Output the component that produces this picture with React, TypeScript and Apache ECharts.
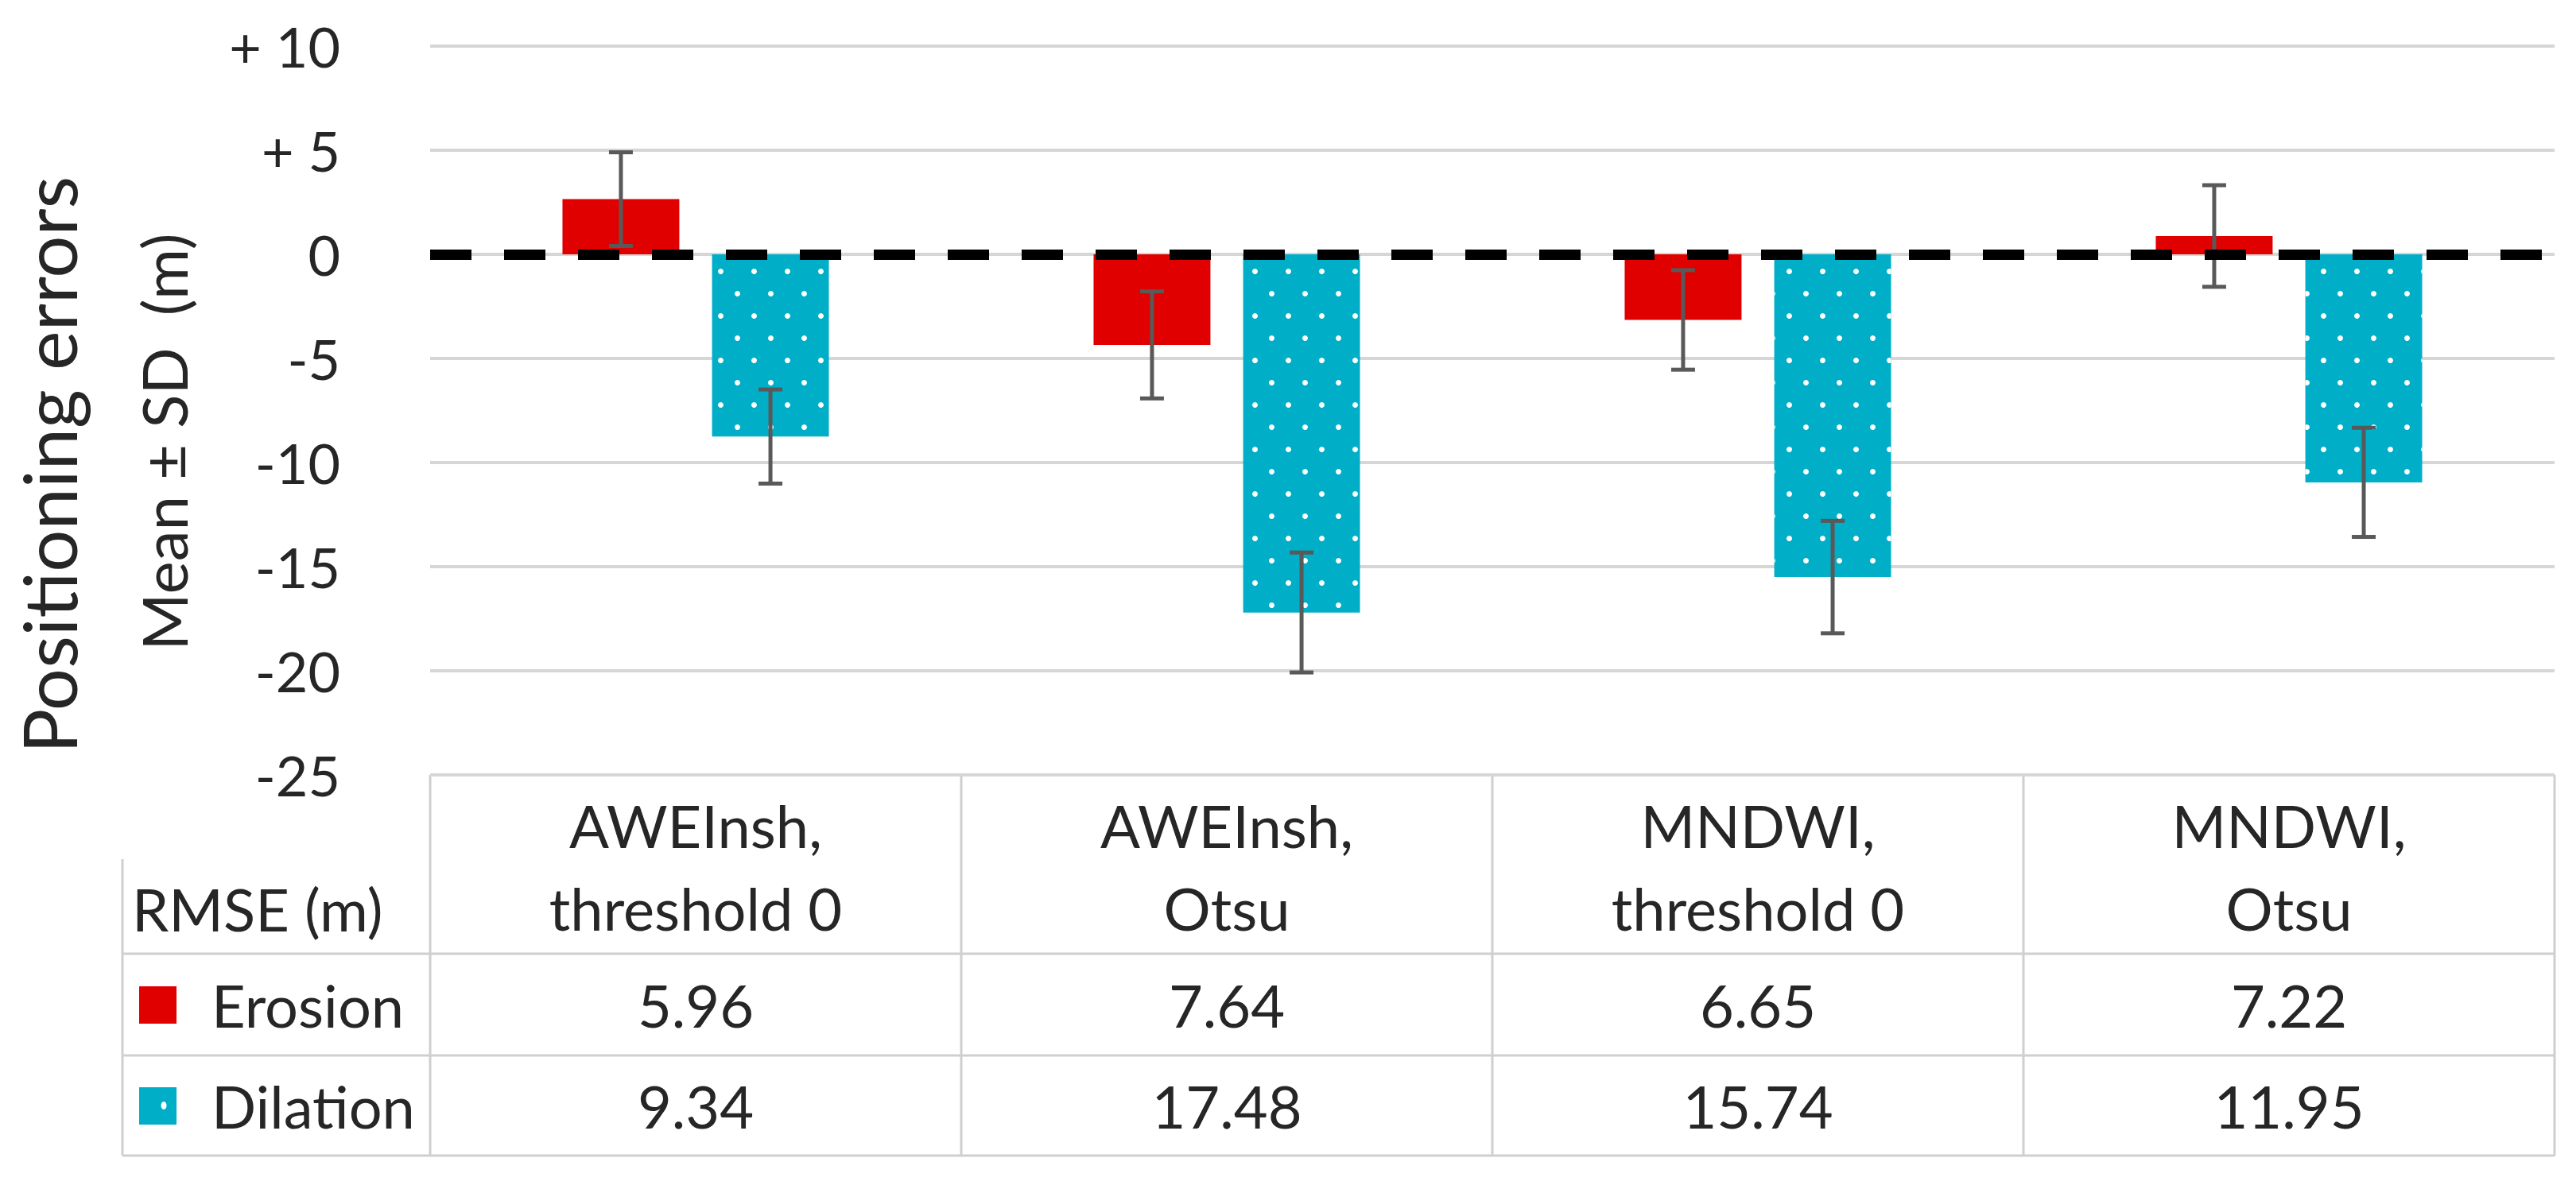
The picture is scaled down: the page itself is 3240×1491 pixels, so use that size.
import React, { useEffect, useRef } from 'react';
import * as echarts from 'echarts';

// ---------- data ----------
const categoryLines: string[][] = [
  ['AWEInsh,', 'threshold 0'],
  ['AWEInsh,', 'Otsu'],
  ['MNDWI,', 'threshold 0'],
  ['MNDWI,', 'Otsu'],
];
const categories = categoryLines.map((l) => l.join(' '));
const seriesNames = ['Erosion', 'Dilation'];
const erosionMean = [2.65, -4.35, -3.15, 0.88];
const erosionSD = [2.25, 2.57, 2.39, 2.44];
const dilationMean = [-8.75, -17.2, -15.5, -10.95];
const dilationSD = [2.26, 2.88, 2.7, 2.62];
const erosionRMSE = ['5.96', '7.64', '6.65', '7.22'];
const dilationRMSE = ['9.34', '17.48', '15.74', '11.95'];
const yTicks = [10, 5, 0, -5, -10, -15, -20, -25];
const yTickLabels = ['+ 10', '+ 5', '0', '-5', '-10', '-15', '-20', '-25'];
const tableHeader = 'RMSE (m)';
const yTitle = 'Positioning errors';
const ySubTitle = 'Mean ± SD  (m)';

// ---------- layout / style ----------
const W = 3240;
const H = 1491;
const GRID_LEFT = 541;
const GRID_RIGHT = 27;
const GRID_TOP = 58;
const TABLE_TOP = 975;
const GRID_BOTTOM = H - TABLE_TOP;
const HEADER_BOTTOM = 1200;
const ROW1_BOTTOM = 1328;
const TABLE_BOTTOM = 1454;
const LABEL_LEFT = 154;
const LABEL_LINE_TOP = 1081;
const RED = '#E00000';
const CYAN = '#00AEC7';
const TEXT = '#262626';
const GRID_COLOR = '#d6d6d6';
const TABLE_LINE = '#cfcfcf';
const FONT = 'Lato';
const BAR_W = 0.22;
const BAR_GAP = 0.28;
const OFFSET = (BAR_W + BAR_W * BAR_GAP) / 2;

const dotDecal = {
  symbol: 'circle',
  symbolSize: 1,
  symbolKeepAspect: false,
  color: '#ffffff',
  dashArrayX: [
    [7, 35],
    [0, 21, 7, 14],
  ],
  dashArrayY: [11, 17],
  rotation: 0,
};

function makeErrRender(offsetRatio: number) {
  return (params: any, api: any) => {
    const cat = api.value(0);
    const lo = api.value(1);
    const hi = api.value(2);
    const band = api.size([1, 0])[0];
    const pLo = api.coord([cat, lo]);
    const pHi = api.coord([cat, hi]);
    const x = pLo[0] + offsetRatio * band;
    const cap = 15;
    const style = { stroke: '#595959', lineWidth: 5 };
    return {
      type: 'group',
      children: [
        { type: 'line', shape: { x1: x, y1: pLo[1], x2: x, y2: pHi[1] }, style },
        { type: 'line', shape: { x1: x - cap, y1: pLo[1], x2: x + cap, y2: pLo[1] }, style },
        { type: 'line', shape: { x1: x - cap, y1: pHi[1], x2: x + cap, y2: pHi[1] }, style },
      ],
    };
  };
}

function buildGraphic() {
  const right = W - GRID_RIGHT;
  const colW = (right - GRID_LEFT) / categories.length;
  const els: any[] = [];
  const line = (x1: number, y1: number, x2: number, y2: number) => ({
    type: 'line',
    shape: { x1, y1, x2, y2 },
    style: { stroke: TABLE_LINE, lineWidth: 3 },
    silent: true,
  });
  els.push(line(GRID_LEFT, TABLE_TOP, right, TABLE_TOP));
  [HEADER_BOTTOM, ROW1_BOTTOM, TABLE_BOTTOM].forEach((y) => els.push(line(LABEL_LEFT, y, right, y)));
  els.push(line(LABEL_LEFT, LABEL_LINE_TOP, LABEL_LEFT, TABLE_BOTTOM));
  for (let i = 0; i <= categories.length; i++) {
    const x = GRID_LEFT + i * colW;
    els.push(line(x, TABLE_TOP, x, TABLE_BOTTOM));
  }
  const txt = (text: string, x: number, y: number, align: string, size: number, extra: any = {}) => ({
    type: 'text',
    x,
    y,
    silent: true,
    style: {
      text,
      fill: TEXT,
      fontSize: size,
      fontFamily: FONT,
      align,
      verticalAlign: 'middle',
      ...extra,
    },
  });
  const headerMid = (TABLE_TOP + HEADER_BOTTOM) / 2 + 3;
  const row1Mid = (HEADER_BOTTOM + ROW1_BOTTOM) / 2;
  const row2Mid = (ROW1_BOTTOM + TABLE_BOTTOM) / 2;
  categoryLines.forEach((lines, i) => {
    const cx = GRID_LEFT + (i + 0.5) * colW;
    els.push(txt(lines.join('\n'), cx, headerMid, 'center', 74, { lineHeight: 104 }));
    els.push(txt(erosionRMSE[i], cx, row1Mid, 'center', 74));
    els.push(txt(dilationRMSE[i], cx, row2Mid, 'center', 74));
  });
  els.push(txt(tableHeader, 166, 1143, 'left', 74));
  els.push({ type: 'rect', shape: { x: 175, y: row1Mid - 23, width: 47, height: 47 }, style: { fill: RED }, silent: true });
  els.push({ type: 'rect', shape: { x: 175, y: row2Mid - 23, width: 47, height: 47 }, style: { fill: CYAN }, silent: true });
  els.push({ type: 'ellipse', shape: { cx: 206, cy: row2Mid, rx: 3.5, ry: 5 }, style: { fill: '#ffffff' }, silent: true });
  els.push(txt(seriesNames[0], 266, row1Mid, 'left', 74));
  els.push(txt(seriesNames[1], 266, row2Mid, 'left', 74));
  els.push({
    type: 'text',
    x: 60,
    y: 585,
    rotation: Math.PI / 2,
    silent: true,
    style: { text: yTitle, fill: TEXT, fontSize: 94, fontFamily: FONT, align: 'center', verticalAlign: 'middle' },
  });
  els.push({
    type: 'text',
    x: 206,
    y: 556,
    rotation: Math.PI / 2,
    silent: true,
    style: { text: ySubTitle, fill: TEXT, fontSize: 78, fontFamily: FONT, align: 'center', verticalAlign: 'middle' },
  });
  return els;
}

export default function App() {
  const ref = useRef<HTMLDivElement>(null);
  useEffect(() => {
    if (!ref.current) return;
    const chart = echarts.init(ref.current, undefined, { renderer: 'svg' });
    const option: any = {
      animation: false,
      backgroundColor: '#ffffff',
      textStyle: { fontFamily: FONT },
      grid: { left: GRID_LEFT, right: GRID_RIGHT, top: GRID_TOP, bottom: GRID_BOTTOM, containLabel: false },
      xAxis: {
        type: 'category',
        data: categories,
        axisLine: { show: false },
        axisTick: { show: false },
        axisLabel: { show: false },
        splitLine: { show: false },
      },
      yAxis: {
        type: 'value',
        min: -25,
        max: 10,
        interval: 5,
        axisLine: { show: false },
        axisTick: { show: false },
        splitLine: { lineStyle: { color: GRID_COLOR, width: 4 } },
        axisLabel: {
          margin: 113,
          fontSize: 70,
          color: TEXT,
          fontFamily: FONT,
          formatter: (v: number) => {
            const idx = yTicks.indexOf(v);
            return idx >= 0 ? yTickLabels[idx] : String(v);
          },
        },
      },
      series: [
        {
          name: seriesNames[0],
          type: 'bar',
          data: erosionMean,
          barWidth: BAR_W * 100 + '%',
          barGap: BAR_GAP * 100 + '%',
          itemStyle: { color: RED },
          z: 2,
        },
        {
          name: seriesNames[1],
          type: 'bar',
          data: dilationMean,
          barWidth: BAR_W * 100 + '%',
          barGap: BAR_GAP * 100 + '%',
          itemStyle: { color: CYAN, decal: dotDecal },
          z: 2,
        },
        {
          name: seriesNames[0] + ' SD',
          type: 'custom',
          data: erosionMean.map((m, i) => [i, m - erosionSD[i], m + erosionSD[i]]),
          encode: { x: 0, y: [1, 2] },
          renderItem: makeErrRender(-OFFSET),
          z: 4,
          markLine: {
            silent: true,
            symbol: ['none', 'none'],
            label: { show: false },
            lineStyle: { color: '#000000', width: 13, type: [52, 41] },
            data: [{ yAxis: 0 }],
          },
        },
        {
          name: seriesNames[1] + ' SD',
          type: 'custom',
          data: dilationMean.map((m, i) => [i, m - dilationSD[i], m + dilationSD[i]]),
          encode: { x: 0, y: [1, 2] },
          renderItem: makeErrRender(OFFSET),
          z: 4,
        },
      ],
      graphic: buildGraphic(),
    };
    chart.setOption(option);
    return () => chart.dispose();
  }, []);
  return <div ref={ref} style={{ position: 'absolute', left: 0, top: 0, width: W, height: H }} />;
}
